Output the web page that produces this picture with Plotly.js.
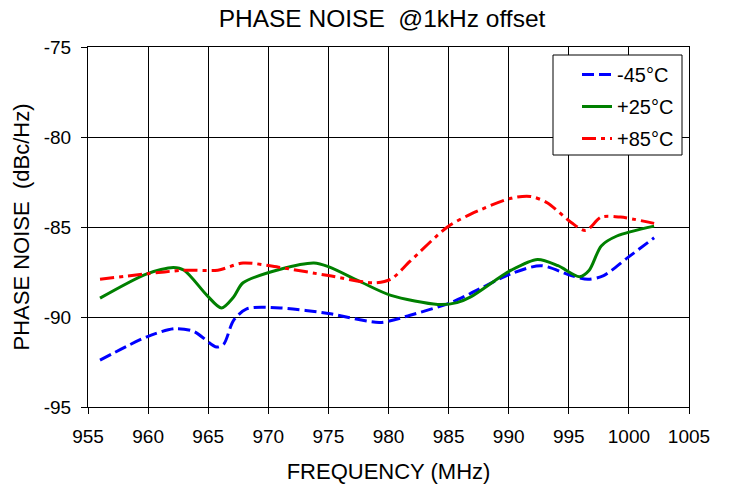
<!DOCTYPE html>
<html><head><meta charset="utf-8">
<script src="https://cdn.plot.ly/plotly-3.0.1.min.js"></script>
<style>html,body{margin:0;padding:0;background:#fff}#c{width:729px;height:487px}</style>
</head><body><div id="c"></div>
<script>
var freqM45 = [956, 959.9, 962.2, 963.8, 965.7, 966.3, 967.1, 968.2, 971, 975, 979.3, 981.8, 985.2, 986.8, 990.2, 992.7, 995.2, 996.6, 997.9, 999.9, 1002.1];
var valM45  = [-92.4, -91.1, -90.65, -90.8, -91.67, -91.5, -90.2, -89.55, -89.5, -89.8, -90.3, -89.9, -89.2, -88.7, -87.6, -87.15, -87.7, -87.9, -87.7, -86.7, -85.6];
var freqP25 = [956, 959.9, 962.1, 963, 964.9, 966.1, 967.1, 967.9, 971, 973.8, 975, 977.75, 980.2, 984.1, 985.7, 986.8, 990.2, 992.4, 994.1, 995.9, 996.7, 997.7, 999, 1002.1];
var valP25  = [-88.95, -87.6, -87.25, -87.4, -88.8, -89.5, -88.9, -88.1, -87.35, -87.0, -87.2, -88.07, -88.8, -89.3, -89.2, -88.9, -87.4, -86.8, -87.15, -87.76, -87.4, -86.05, -85.5, -84.95];
var freqP85 = [956, 959.9, 963, 965.8, 967.9, 971, 975, 978.8, 980.2, 981.8, 984.9, 986.8, 990.2, 991.8, 993.2, 995.2, 996.4, 997.7, 999.3, 1002.1];
var valP85  = [-87.9, -87.6, -87.4, -87.4, -87.0, -87.25, -87.7, -88.1, -87.9, -86.9, -85.0, -84.3, -83.4, -83.3, -83.65, -84.75, -85.2, -84.45, -84.45, -84.8];
var seriesNames = ['-45°C', '+25°C', '+85°C'];
var xTicks = [955, 960, 965, 970, 975, 980, 985, 990, 995, 1000, 1005];
var yTicks = [-75, -80, -85, -90, -95];

var font = 'Liberation Sans, Arial, sans-serif';
var traces = [
  {x: freqM45, y: valM45, name: seriesNames[0], legendgroup: 'a', mode: 'lines',
   line: {color: '#0000ff', width: 3, dash: '12px,5px', shape: 'spline', smoothing: 0.8}},
  {x: freqP25, y: valP25, name: seriesNames[1], legendgroup: 'b', mode: 'lines',
   line: {color: '#008000', width: 3, shape: 'spline', smoothing: 0.8}},
  {x: freqP85, y: valP85, name: seriesNames[2], legendgroup: 'c', mode: 'lines',
   line: {color: '#ff0000', width: 3, dash: '14px,5px,4px,5px', shape: 'spline', smoothing: 0.8}}
];
var layout = {
  width: 729, height: 487,
  margin: {l: 88, r: 40, t: 47, b: 80},
  paper_bgcolor: '#fff', plot_bgcolor: '#fff',
  font: {family: font, color: '#000', size: 19},
  title: {text: 'PHASE NOISE  @1kHz offset', font: {size: 24.5, family: font}, x: 0.524, xanchor: 'center', y: 0.962, yanchor: 'middle'},
  xaxis: {range: [955, 1005], tickvals: xTicks, ticktext: xTicks.map(String),
    showgrid: true, gridcolor: '#000', gridwidth: 1, zeroline: false,
    showline: true, linecolor: '#000', linewidth: 1, mirror: true,
    ticks: 'outside', ticklen: 6, tickcolor: '#000', tickfont: {size: 19}, ticklabelstandoff: 6,
    title: {text: 'FREQUENCY (MHz)', font: {size: 22}, standoff: 17}},
  yaxis: {range: [-95, -75], tickvals: yTicks, ticktext: yTicks.map(String),
    showgrid: true, gridcolor: '#000', gridwidth: 1, zeroline: false,
    showline: true, linecolor: '#000', linewidth: 1, mirror: true,
    ticks: 'outside', ticklen: 6, tickcolor: '#000', tickfont: {size: 19}, ticklabelstandoff: 6,
    title: {text: 'PHASE NOISE  (dBc/Hz)', font: {size: 22}, standoff: 8}},
  shapes: [{type: 'rect', xref: 'paper', yref: 'paper', layer: 'above',
    x0: (553 - 88) / 601, x1: (682 - 88) / 601, y0: (407 - 155) / 360, y1: (407 - 55) / 360,
    line: {color: '#000', width: 1}, fillcolor: '#fff'}],
  legend: {x: (577 - 88) / 601, y: (407 - 55) / 360, xanchor: 'left', yanchor: 'top',
    bgcolor: 'rgba(0,0,0,0)', borderwidth: 0,
    font: {size: 20}, traceorder: 'grouped', tracegroupgap: 3},
  showlegend: true
};
Plotly.newPlot('c', traces, layout, {staticPlot: true});
</script></body></html>
